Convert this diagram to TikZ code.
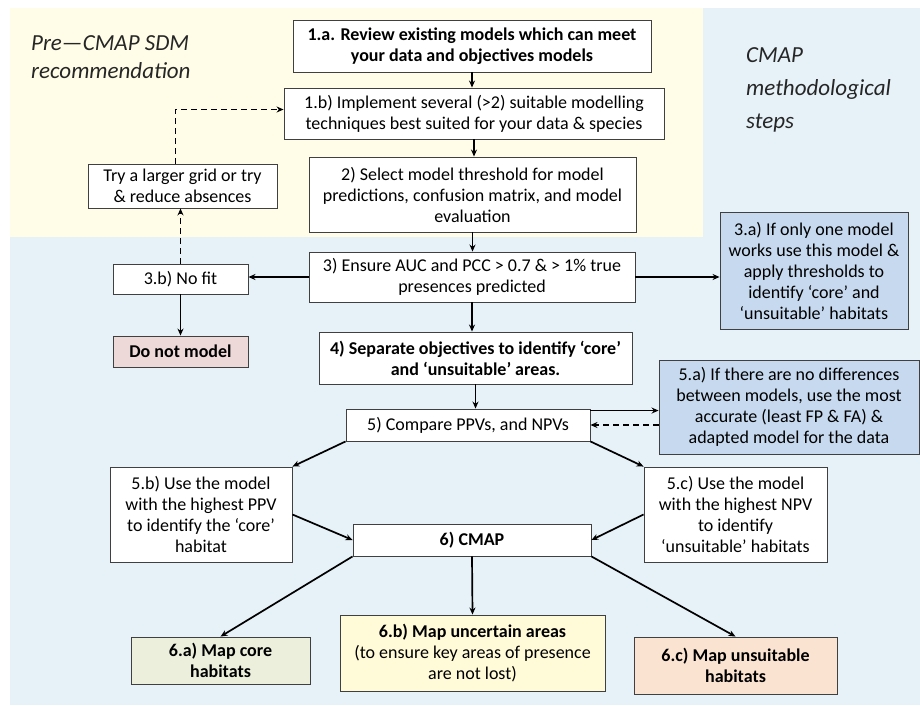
\documentclass[tikz,border=0pt]{standalone}
\usepackage{fontspec}
\setmainfont{Carlito}
\usetikzlibrary{arrows.meta}
\usepackage{xcolor}
\definecolor{preyellow}{HTML}{FFFDE8}
\definecolor{stepblue}{HTML}{E6F2F8}
\definecolor{noteblue}{HTML}{C6D9EE}
\definecolor{stoppink}{HTML}{EED9D9}
\definecolor{coregreen}{HTML}{ECEFDC}
\definecolor{uncyellow}{HTML}{FFFBD8}
\definecolor{unsuitpeach}{HTML}{FBE3D2}

\begin{document}
\begin{tikzpicture}[x=1pt,y=-1pt,
  box/.style={draw=black!75,line width=0.9pt,fill=white,align=center,inner sep=0pt,
    text=black,font=\fontsize{18}{21}\selectfont},
  bold/.style={font=\fontsize{18}{21}\selectfont\bfseries},
  arr/.style={-{Stealth[length=7pt,width=6pt]},line width=1.7pt},
  backarr/.style={arr,dash pattern=on 6pt off 4pt},
  zone/.style={anchor=north west,align=left,inner sep=0pt,text=black!85}]
\useasboundingbox (0,0) rectangle (920,706);
% shaded zones
\fill[preyellow] (10,8) rectangle (703,237);
\fill[stepblue] (703,8) rectangle (920,237);
\fill[stepblue] (10,237) rectangle (920,705);
\node[zone,font=\fontsize{23}{28}\selectfont\itshape] (pre) at (31,35) {Pre—CMAP SDM\\recommendation};
\node[zone,font=\fontsize{23}{33}\selectfont\itshape] (meth) at (746,47) {CMAP\\methodological\\steps};

% main column
\node[box,bold,minimum width=358,minimum height=52] (s1a) at (472,46) {1.a. Review existing models which can meet\\your data and objectives models};
\node[box,minimum width=380,minimum height=51] (s1b) at (474,113.5) {1.b) Implement several (>2) suitable modelling\\techniques best suited for your data \& species};
\node[box,minimum width=327,minimum height=75] (s2) at (472.5,194.5) {2) Select model threshold for model\\predictions, confusion matrix, and model\\evaluation};
\node[box,minimum width=326,minimum height=50] (s3) at (472,277) {3) Ensure AUC and PCC > 0.7 \& > 1\% true\\presences predicted};
\node[box,bold,minimum width=313,minimum height=52] (s4) at (475.5,358) {4) Separate objectives to identify ‘core’\\and ‘unsuitable’ areas.};
\node[box,minimum width=244,minimum height=32] (s5) at (468,425) {5) Compare PPVs, and NPVs};
\node[box,bold,minimum width=238,minimum height=32] (s6) at (472,540) {6) CMAP};

% side boxes
\node[box,minimum width=189,minimum height=44] (try) at (182.5,186) {Try a larger grid or try\\\& reduce absences};
\node[box,minimum width=135,minimum height=30] (s3b) at (180.5,279) {3.b) No fit};
\node[box,bold,fill=stoppink,minimum width=135,minimum height=31] (nomod) at (180.5,351.5) {Do not model};
\node[box,fill=noteblue,minimum width=188,minimum height=117] (s3a) at (814,270.5) {3.a) If only one model\\works use this model \&\\apply thresholds to\\identify ‘core’ and\\‘unsuitable’ habitats};
\node[box,fill=noteblue,minimum width=260,minimum height=94] (s5a) at (789,407) {5.a) If there are no differences\\between models, use the most\\accurate (least FP \& FA) \&\\adapted model for the data};
\node[box,minimum width=182,minimum height=95] (s5b) at (201,514.5) {5.b) Use the model\\with the highest PPV\\to identify the ‘core’\\habitat};
\node[box,minimum width=183,minimum height=95] (s5c) at (735.5,514.5) {5.c) Use the model\\with the highest NPV\\to identify\\‘unsuitable’ habitats};

% outputs
\node[box,bold,fill=coregreen,minimum width=179,minimum height=47] (s6a) at (220.5,660.5) {6.a) Map core\\habitats};
\node[box,fill=uncyellow,minimum width=265,minimum height=76] (s6b) at (472.5,653) {\textbf{6.b) Map uncertain areas}\\(to ensure key areas of presence\\are not lost)};
\node[box,bold,fill=unsuitpeach,minimum width=203,minimum height=57] (s6c) at (735.5,665.5) {6.c) Map unsuitable\\habitats};

% connectors
\foreach \a/\b in {s1a/s1b,s1b/s2,s2/s3,s3/s4,s4/s5}
  \draw[arr] (\a.south) -- (\a.south |- \b.north);
\draw[arr] (s3.west) -- (s3.west -| s3b.east);
\draw[arr] (s3.east) -- (s3.east -| s3a.west);
\draw[arr] (s3b.south) -- (s3b.south |- nomod.north);
\draw[backarr] (s3b.north) -- (s3b.north |- try.south);
\draw[backarr] ([xshift=-7pt]try.north) |- ([yshift=4pt]s1b.west);
\draw[arr] ([yshift=-2pt]s5.north east) -- ([yshift=-2pt]s5.north east -| s5a.west);
\draw[backarr] (s5a.west |- s5.east) -- (s5.east);
\draw[arr] (s5.south west) -- (s5b.north east);
\draw[arr] (s5.south east) -- (s5c.north west);
\draw[arr] (s5b.east) -- (s6.west);
\draw[arr] (s5c.west) -- (s6.east);
\draw[arr] (s6.south west) -- (s6a.north);
\draw[arr] (s6.south) -- (s6b.north);
\draw[arr] (s6.south east) -- (s6c.north);
\end{tikzpicture}
\end{document}
